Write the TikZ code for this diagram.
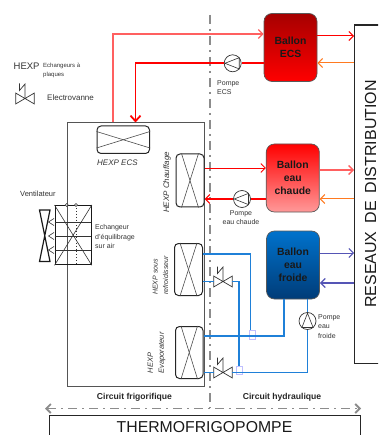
\documentclass[tikz,border=0pt]{standalone}
\usepackage{fontspec}
\setmainfont{Liberation Sans}
\usetikzlibrary{arrows.meta,calc}
\definecolor{pinkline}{HTML}{FF6060}
\definecolor{redline}{HTML}{FF0000}
\definecolor{orangeline}{HTML}{FF7A20}
\definecolor{purpleline}{HTML}{5555B5}
\definecolor{blueline}{HTML}{1F80D8}
\definecolor{axisgray}{HTML}{8C8C8C}
\definecolor{framegray}{HTML}{555555}
\definecolor{txt}{HTML}{333333}
\definecolor{frtop}{HTML}{0072CC}
\definecolor{frmid}{HTML}{0060AE}
\definecolor{frbot}{HTML}{003C78}
\tikzset{
  hexp/.style={draw=black!85,line width=1pt,rounded corners=4pt,inner sep=0pt},
  ballon/.style={draw=black!65,line width=0.7pt,rounded corners=8pt,inner sep=0pt,minimum width=53pt,minimum height=68pt,
    align=center,font=\fontsize{10.4}{13}\selectfont\bfseries,text=black!90},
  small/.style={inner sep=0pt,text=txt,align=left,font=\fontsize{7}{9.4}\selectfont},
  hx/.style={inner sep=0pt,text=txt,align=left,font=\fontsize{8}{10.5}\selectfont\itshape},
  barb/.style={-{Straight Barb[length=4.5pt,width=9pt]}},
  pumpc/.style={circle,draw=black!80,fill=white,line width=0.7pt,minimum size=17pt,inner sep=0pt},
  axis/.style={draw=axisgray,line width=1.8pt,dash pattern=on 9pt off 5pt on 2pt off 5pt},
  pipeblue/.style={draw=blueline,line width=1.1pt},
  bridge/.style={draw=blue!25,fill=white,line width=0.5pt,inner sep=0pt,minimum width=6pt,minimum height=8pt},
  valvebox/.style={inner sep=0pt,minimum width=18pt,minimum height=10.4pt},
}
\newcommand{\mypump}[3]{%
  \node[pumpc] (#1) at (#2) {};
  \draw[black!80,line width=0.6pt,rotate around={#3:(#1.center)}]
    ($(#1.center)+(-7.8,0)$) -- ($(#1.center)+(6.5,-5.6)$) -- ($(#1.center)+(6.5,5.6)$) -- cycle;
}
\newcommand{\myvalve}[2]{%
  \node[valvebox] (#1) at (#2) {};
  \draw[black!80,line width=0.7pt] (#1.north west) -- (#1.south east) -- (#1.north east) -- (#1.south west) -- cycle;
  \draw[black!80,line width=0.7pt] (#1.center) -- ++(0,-14.5) -- ++(-5.5,6.5) -- ++(0,-7);
}
\begin{document}
\begin{tikzpicture}[x=1pt,y=-1pt,every node/.style={font=\fontsize{8}{10}\selectfont}]
\clip (0,0) rectangle (378,435);

% frames
\node[draw=framegray,line width=1pt,minimum width=137.5pt,minimum height=263pt,inner sep=0pt,anchor=north west] (frig) at (66.7,122.5) {};
\node[draw=black!85,line width=1.1pt,minimum width=40pt,minimum height=338.5pt,inner sep=0pt,anchor=north west] (reseau) at (354,24.5) {};
\node[draw=black!85,line width=1.1pt,minimum width=311pt,minimum height=40pt,inner sep=0pt,anchor=north west] (thermo) at (49,415) {};
\node[inner sep=0pt,font=\fontsize{15.8}{18}\selectfont,text=black!90] (thermot) at (204.5,427.5) {THERMOFRIGOPOMPE};
\node[inner sep=0pt,rotate=90,font=\fontsize{16}{18}\selectfont,text=black!90] (reseaut) at (370.5,194) {RESEAUX\hspace{8pt}DE\hspace{8pt}DISTRIBUTION};

% axes
\coordinate (va) at (210,15);
\coordinate (vb) at (210,408);
\coordinate (ha) at (45,408.5);
\coordinate (hb) at (361,408.5);
\draw[axis] (va) -- (vb);
\draw[axis,{Straight Barb[length=4.5pt,width=9pt]}-{Straight Barb[length=4.5pt,width=9pt]}] (ha) -- (hb);

% exchangers
\node[hexp,minimum width=52.5pt,minimum height=27.5pt,anchor=north west] (hecs) at (96.5,125.5) {};
\node[hexp,minimum width=28pt,minimum height=53pt,anchor=north west] (hch) at (175.5,153.5) {};
\node[hexp,minimum width=28pt,minimum height=52pt,anchor=north west] (hsr) at (174,243) {};
\node[hexp,minimum width=27.5pt,minimum height=52pt,anchor=north west] (hev) at (175,326) {};
\foreach \n in {hch,hsr,hev}{
  \draw[black!70,line width=0.6pt] ($(\n.north west)+(6,0)$) -- ($(\n.south east)+(-6,0)$);
  \draw[black!70,line width=0.6pt] ($(\n.north east)+(-6,0)$) -- ($(\n.south west)+(6,0)$);
}
\draw[black!70,line width=0.6pt] ($(hecs.north west)+(0,6)$) -- ($(hecs.south east)+(0,-6)$);
\draw[black!70,line width=0.6pt] ($(hecs.south west)+(0,-6)$) -- ($(hecs.north east)+(0,6)$);

% balloons
\node[ballon,top color=red!65!black,middle color=red!95!black,bottom color=red] (becs) at (290.5,47.5) {Ballon\\ECS};
\node[ballon,top color=red,middle color=red!85!white,bottom color=red!40!white] (bch) at (292.8,178) {Ballon\\eau\\chaude};
\node[ballon,top color=frtop,middle color=frmid,bottom color=frbot] (bfr) at (293,265) {Ballon\\eau\\froide};

% pumps
\mypump{pecs}{232.7,63.3}{0}
\mypump{pch}{242,199}{0}
\mypump{pfr}{307.5,321}{-90}

% valves
\myvalve{vone}{223,281.5}
\myvalve{vtwo}{223,372.5}

% bridges
\node[bridge,minimum height=9pt] (bra) at (252,334.5) {};
\node[bridge] (brb) at (239.5,370) {};

% red circuit
\coordinate (ca1) at (113,34);
\coordinate (ca2) at (135.5,63.3);
\draw[pinkline,line width=1.2pt] (frig.north -| ca1) -- (ca1);
\draw[pinkline,line width=1.2pt,barb] ([xshift=-0.6pt]ca1) -- (becs.west |- ca1);
\draw[redline,line width=1.8pt] (becs.west |- ca2) -- (pecs.east);
\draw[redline,line width=1.8pt] (pecs.west) -- ([xshift=-0.9pt]ca2);
\draw[redline,line width=1.8pt,-{Straight Barb[length=5.5pt,width=10pt]}] (ca2) -- (frig.north -| ca2);
\draw[redline,line width=1pt,barb] (becs.east |- 0,36) -- (reseau.west |- 0,36);
\draw[orangeline,line width=1pt,barb] (reseau.west |- 0,63) -- (becs.east |- 0,63);
% hot circuit
\draw[redline,line width=0.9pt,barb] (hch.east |- 0,168) -- (bch.west |- 0,168);
\draw[redline,line width=1.1pt] (bch.west |- pch) -- (pch.east);
\draw[redline,line width=1.1pt,barb] (pch.west) -- (hch.east |- pch);
\draw[pinkline,line width=1.3pt,barb] (bch.east |- 0,170) -- (reseau.west |- 0,170);
\draw[orangeline,line width=1pt,barb] (reseau.west |- 0,199) -- (bch.east |- 0,199);
% cold circuit
\draw[purpleline,line width=1pt,barb] (bfr.east |- 0,253) -- (reseau.west |- 0,253);
\draw[purpleline,line width=1.3pt,barb] (reseau.west |- 0,283) -- (bfr.east |- 0,283);
\draw[pipeblue] (hsr.east |- 0,254) -| (bra.north -| 250.5,0);
\draw[pipeblue] (hev.east |- 0,336) -| (bfr.south -| 284,0);
\draw[pipeblue] (hsr.east |- vone) -- (vone.west);
\draw[pipeblue] (vone.east) -| (brb.north -| 239,0);
\draw[pipeblue] (hev.east |- vtwo) -- (vtwo.west);
\draw[pipeblue] (vtwo.east) -| (pfr.south);
\draw[pipeblue] (pfr.north) -- (bfr.south -| pfr.north);

% air exchanger
\node[draw=black!90,line width=1.3pt,minimum width=36pt,minimum height=59pt,inner sep=0pt,anchor=north west] (air) at (54.5,205) {};
\draw[black!80,line width=0.6pt] (air.north west) -- (air.south east);
\draw[black!80,line width=0.6pt] (air.north east) -- (air.south west);
\foreach \y in {222,236,250}{
  \draw[black!80,line width=0.7pt] (air.west |- 0,\y) -- (91,\y);
  \draw[black!80,line width=0.6pt] (54,\y-3.5) -- (48.5,\y) -- (54,\y+3.5);
}
\draw[black!80,line width=0.9pt,dotted] (76,205) -- (76,264);
\node[circle,draw=black!80,fill=white,inner sep=0pt,minimum size=3pt,line width=0.5pt] (ca) at (66.7,205) {};
\node[circle,draw=black!80,fill=white,inner sep=0pt,minimum size=3pt,line width=0.5pt] (cb) at (76,205) {};
% fan
\draw[black!90,line width=1.2pt] (39.5,210) -- (50,210) -- (39.5,261.5) -- (50,261.5) -- cycle;

% legend
\node[inner sep=0pt,anchor=west,text=txt,font=\fontsize{9.5}{11}\selectfont] (lh) at (13.5,66) {HEXP};
\node[small,anchor=north west,font=\fontsize{6}{8.6}\selectfont] (lhe) at (43,63) {Echangeurs à\\plaques};
\myvalve{lv}{25,98.5}
\node[inner sep=0pt,anchor=west,text=txt,font=\fontsize{8}{10}\selectfont] (le) at (47,98) {Electrovanne};

% labels
\node[hx,anchor=west] (lecs) at (97,162.5) {HEXP ECS};
\node[hx,rotate=90,anchor=center] (lch) at (167,182.5) {HEXP Chauffage};
\node[hx,rotate=90,anchor=north west,font=\fontsize{7}{10.5}\selectfont\itshape] (lsr) at (152.5,295) {HEXP sous\\refroidisseur};
\node[hx,rotate=90,anchor=north west,font=\fontsize{7.5}{11}\selectfont\itshape] (lev) at (147.5,373.5) {HEXP\\Evaporateur};
\node[small,anchor=west,font=\fontsize{7.5}{9}\selectfont] (lve) at (20,194) {Ventilateur};
\node[small,anchor=north west] (lec) at (95,224.5) {Echangeur\\d'équilibrage\\sur air};
\node[small,anchor=north west] (lpe) at (217,80.5) {Pompe\\ECS};
\node[small,anchor=north,align=center] (lpc) at (241,210.5) {Pompe\\eau chaude};
\node[small,anchor=north west] (lpf) at (318,314.5) {Pompe\\eau\\froide};
\node[inner sep=0pt,text=black!85,font=\fontsize{8.6}{10}\selectfont\bfseries] (lcf) at (134.5,397) {Circuit frigorifique};
\node[inner sep=0pt,text=black!85,font=\fontsize{8.6}{10}\selectfont\bfseries] (lch2) at (282,397) {Circuit hydraulique};
\end{tikzpicture}
\end{document}
